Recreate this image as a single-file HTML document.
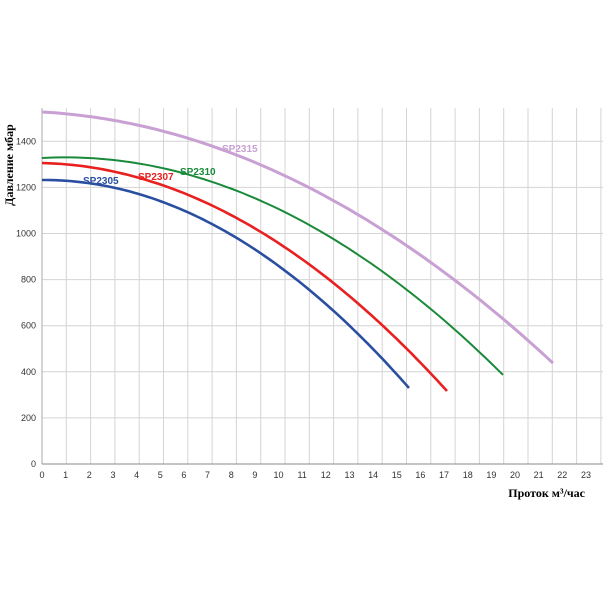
<!DOCTYPE html><html><head><meta charset="utf-8"><style>body{margin:0;background:#fff}svg{display:block}</style></head><body>
<svg id="s" width="603" height="603" xmlns="http://www.w3.org/2000/svg" font-family="Liberation Sans, sans-serif"></svg>
<script>
const s=document.getElementById('s');let h='';
const G=q=>42+q*24.3, L=q=>42+q*23.65, Y=v=>464-v*0.2305;
for(let i=1;i<=23;i++)h+=`<line x1="${G(i)}" y1="108" x2="${G(i)}" y2="464" stroke="#d4d4d4" stroke-width="1"/>`;
for(let v=200;v<=1400;v+=200)h+=`<line x1="42" y1="${Y(v)}" x2="603" y2="${Y(v)}" stroke="#d4d4d4" stroke-width="1"/>`;
h+=`<line x1="42" y1="108" x2="42" y2="464" stroke="#aaa"/><line x1="42" y1="464" x2="603" y2="464" stroke="#888"/>`;
for(let i=0;i<=23;i++)h+=`<text x="${L(i)}" y="478" font-size="9" text-anchor="middle" fill="#333">${i}</text>`;
for(let v=0;v<=1400;v+=200)h+=`<text x="36" y="${Y(v)+3}" font-size="9" text-anchor="end" fill="#333">${v}</text>`;
const C=[["#c9a0d3",3,112,0.0550,8.54e-4,553],["#1a8a3a",2,158,-0.0528,1.135e-3,503],["#e82020",2.6,163,0.0236,1.332e-3,447],["#2a4fa0",2.6,180,-0.0062,1.561e-3,409]];
for(const [c,w,y0,a,b,xe] of C){let p='';for(let i=0;i<=80;i++){const x=42+(xe-42)*i/80,d=x-42;p+=(p?'L':'M')+x.toFixed(1)+','+(y0+a*d+b*d*d).toFixed(1);}h+=`<path d="${p}" fill="none" stroke="${c}" stroke-width="${w}"/>`;}
h+=`<text x="222" y="152" font-size="10" font-weight="bold" fill="#c9a0d3">SP2315</text>
<text x="180" y="175" font-size="10" font-weight="bold" fill="#1a8a3a">SP2310</text>
<text x="138" y="180" font-size="10" font-weight="bold" fill="#e82020">SP2307</text>
<text x="83" y="184" font-size="10" font-weight="bold" fill="#2a4fa0">SP2305</text>
<text transform="translate(13,165) rotate(-90)" font-family="Liberation Serif, serif" font-size="12" font-weight="bold" text-anchor="middle">Давление мбар</text>
<text x="585" y="497" font-family="Liberation Serif, serif" font-size="12" font-weight="bold" text-anchor="end">Проток м³/час</text>`;
s.innerHTML=h;
</script></body></html>
